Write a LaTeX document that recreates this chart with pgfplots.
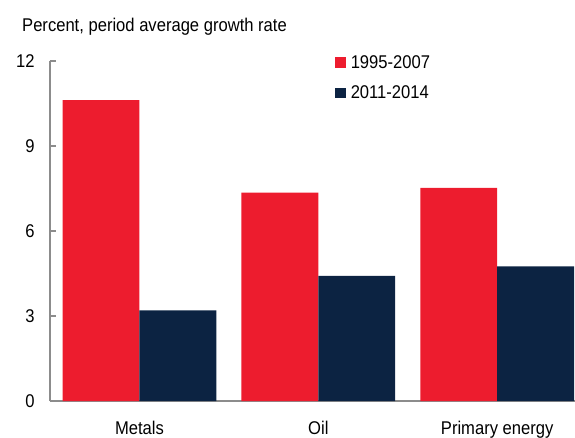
\documentclass[border=0pt]{standalone}
\usepackage{fontspec}
\setmainfont{Liberation Sans}[FakeStretch=0.9]
\usepackage{pgfplots}
\pgfplotsset{compat=1.18}
\definecolor{imfred}{RGB}{237,28,46}
\definecolor{imfnavy}{RGB}{12,35,66}
\definecolor{axisgray}{RGB}{140,140,140}
\begin{document}
\begin{tikzpicture}[x=1bp,y=1bp]
\path[use as bounding box] (-50bp,-37bp) rectangle (525bp,401bp);
\begin{axis}[
  at={(0bp,0bp)}, anchor=south west,
  scale only axis, width=525bp, height=340bp,
  ymin=0, ymax=12, ytick={0,3,6,9,12},
  xmin=-0.5, xmax=2.435,
  xtick={0,1,2}, xticklabels={Metals,Oil,Primary energy},
  axis x line*=bottom, axis y line*=left,
  axis line style={axisgray, line width=1.3bp},
  tick align=inside,
  major tick length=6bp,
  ytick style={axisgray, line width=1.3bp},
  xtick style={draw=none},
  ybar=0pt, bar width=0.43,
  font=\fontsize{18.5}{21}\selectfont,
  /pgf/number format/assume math mode=true,
  yticklabel style={xshift=-12bp},
  xticklabel style={yshift=-11bp},
  legend style={at={(0.543,1.022)}, anchor=north west, draw=none, fill=none,
    font=\fontsize{18.5}{21}\selectfont, row sep=12bp, inner sep=0pt,
    /tikz/every odd column/.append style={column sep=3bp}},
  legend cell align=left,
  legend image code/.code={\fill[#1] (0bp,-5bp) rectangle (10.5bp,5.5bp);},
]
\addplot[fill=imfred, draw=none] coordinates {(0,10.62) (1,7.35) (2,7.52)};
\addlegendentry{1995-2007}
\addplot[fill=imfnavy, draw=none] coordinates {(0,3.2) (1,4.42) (2,4.75)};
\addlegendentry{2011-2014}
\end{axis}
\node[anchor=base west, font=\fontsize{18.5}{21}\selectfont, inner sep=0pt] at (-28bp,369bp) {Percent, period average growth rate};
\end{tikzpicture}
\end{document}
